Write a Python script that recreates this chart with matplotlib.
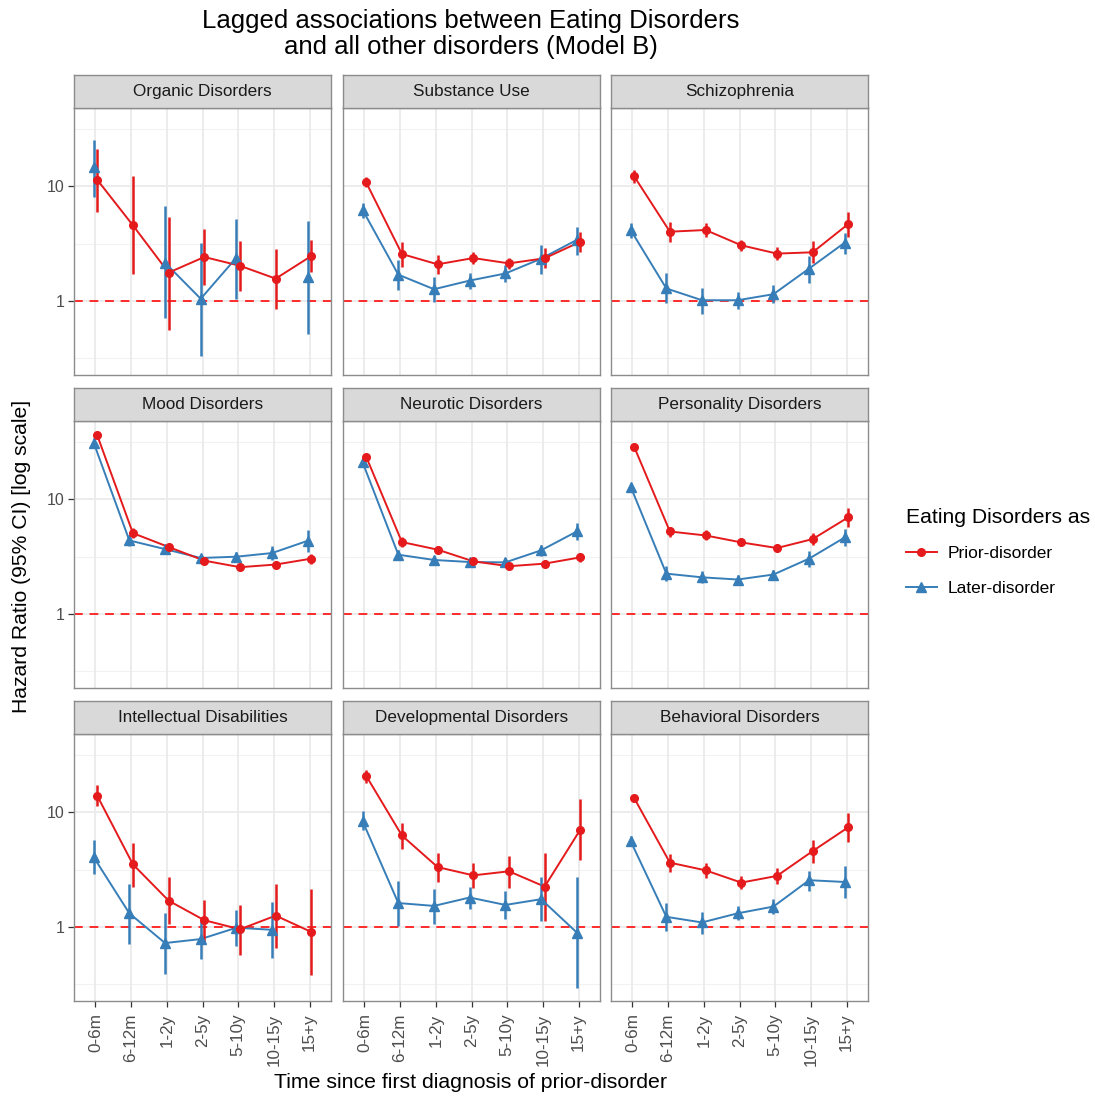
import numpy as np
import matplotlib
matplotlib.use('Agg')
import matplotlib.pyplot as plt
from matplotlib.lines import Line2D

plt.rcParams['font.family'] = ['Liberation Sans', 'DejaVu Sans']

nan = np.nan
periods = ['0-6m', '6-12m', '1-2y', '2-5y', '5-10y', '10-15y', '15+y']
panel_titles = ['Organic Disorders', 'Substance Use', 'Schizophrenia',
                'Mood Disorders', 'Neurotic Disorders', 'Personality Disorders',
                'Intellectual Disabilities', 'Developmental Disorders', 'Behavioral Disorders']
series_labels = ['Prior-disorder', 'Later-disorder']

# Organic Disorders
organic_prior_hr = [11.4, 4.56, 1.76, 2.41, 2.02, 1.56, 2.46]
organic_prior_lo = [6.0, 1.71, 0.56, 1.36, 1.22, 0.84, 1.78]
organic_prior_hi = [21.1, 12.2, 5.43, 4.2, 3.35, 2.85, 3.37]
organic_later_hr = [14.6, nan, 2.15, 1.04, 2.38, nan, 1.62]
organic_later_lo = [8.1, nan, 0.70, 0.33, 1.04, nan, 0.51]
organic_later_hi = [25.4, nan, 6.73, 3.19, 5.18, nan, 4.98]
# Substance Use
substance_prior_hr = [10.8, 2.56, 2.08, 2.36, 2.12, 2.35, 3.28]
substance_prior_lo = [9.8, 1.98, 1.70, 2.08, 1.88, 1.92, 2.68]
substance_prior_hi = [12.0, 3.28, 2.51, 2.68, 2.38, 2.87, 3.96]
substance_later_hr = [6.21, 1.69, 1.26, 1.50, 1.73, 2.33, 3.40]
substance_later_lo = [5.32, 1.24, 0.98, 1.26, 1.45, 1.71, 2.51]
substance_later_hi = [7.1, 2.27, 1.62, 1.76, 2.05, 3.07, 4.44]
# Schizophrenia
schizo_prior_hr = [12.2, 4.01, 4.15, 3.05, 2.58, 2.65, 4.69]
schizo_prior_lo = [10.6, 3.24, 3.58, 2.72, 2.27, 2.12, 3.63]
schizo_prior_hi = [13.9, 4.91, 4.75, 3.40, 2.93, 3.32, 6.0]
schizo_later_hr = [4.15, 1.28, 1.01, 1.01, 1.14, 1.91, 3.22]
schizo_later_lo = [3.51, 0.96, 0.77, 0.84, 0.95, 1.44, 2.56]
schizo_later_hi = [4.81, 1.73, 1.28, 1.20, 1.37, 2.46, 3.93]
# Mood Disorders
mood_prior_hr = [36.3, 5.06, 3.83, 2.91, 2.55, 2.69, 3.03]
mood_prior_lo = [34.0, 4.58, 3.51, 2.72, 2.40, 2.48, 2.72]
mood_prior_hi = [38.8, 5.6, 4.14, 3.11, 2.69, 2.91, 3.35]
mood_later_hr = [31.3, 4.37, 3.67, 3.07, 3.15, 3.39, 4.34]
mood_later_lo = [28.7, 3.88, 3.37, 2.87, 2.87, 2.93, 3.44]
mood_later_hi = [34.0, 4.9, 4.01, 3.28, 3.44, 3.88, 5.41]
# Neurotic Disorders
neurotic_prior_hr = [23.5, 4.23, 3.63, 2.87, 2.60, 2.74, 3.11]
neurotic_prior_lo = [22.0, 3.83, 3.39, 2.69, 2.46, 2.55, 2.83]
neurotic_prior_hi = [24.9, 4.64, 3.88, 3.07, 2.74, 2.93, 3.39]
neurotic_later_hr = [21.0, 3.28, 2.95, 2.83, 2.81, 3.58, 5.23]
neurotic_later_lo = [19.2, 2.97, 2.74, 2.60, 2.60, 3.17, 4.43]
neurotic_later_hi = [22.8, 3.63, 3.17, 3.07, 3.07, 4.01, 6.18]
# Personality Disorders
personality_prior_hr = [28.7, 5.23, 4.83, 4.20, 3.75, 4.49, 6.97]
personality_prior_lo = [27.5, 4.64, 4.37, 3.93, 3.46, 3.96, 5.78]
personality_prior_hi = [29.9, 5.78, 5.34, 4.48, 4.06, 5.06, 8.35]
personality_later_hr = [12.9, 2.24, 2.08, 1.99, 2.20, 3.03, 4.64]
personality_later_lo = [11.8, 1.92, 1.86, 1.83, 1.99, 2.55, 3.88]
personality_later_hi = [14.0, 2.60, 2.35, 2.17, 2.43, 3.51, 5.49]
# Intellectual Disabilities
intellectual_prior_hr = [13.96, 3.51, 1.69, 1.14, 0.95, 1.25, 0.90]
intellectual_prior_lo = [11.3, 2.24, 1.05, 0.73, 0.57, 0.65, 0.38]
intellectual_prior_hi = [17.4, 5.41, 2.74, 1.71, 1.55, 2.35, 2.15]
intellectual_later_hr = [4.06, 1.31, 0.72, 0.78, 0.98, 0.94, nan]
intellectual_later_lo = [2.91, 0.70, 0.39, 0.52, 0.68, 0.53, nan]
intellectual_later_hi = [5.67, 2.38, 1.31, 1.13, 1.40, 1.63, nan]
# Developmental Disorders
developmental_prior_hr = [20.8, 6.27, 3.32, 2.81, 3.05, 2.24, 7.07]
developmental_prior_lo = [18.2, 4.80, 2.46, 2.20, 2.20, 1.13, 3.80]
developmental_prior_hi = [23.5, 8.08, 4.37, 3.58, 4.14, 4.43, 13.1]
developmental_later_hr = [8.35, 1.61, 1.52, 1.80, 1.55, 1.74, 0.89]
developmental_later_lo = [7.07, 1.02, 1.05, 1.42, 1.17, 1.13, 0.29]
developmental_later_hi = [10.2, 2.51, 2.13, 2.24, 2.06, 2.74, 2.72]
# Behavioral Disorders
behavioral_prior_hr = [13.3, 3.63, 3.11, 2.43, 2.78, 4.58, 7.41]
behavioral_prior_lo = [12.4, 3.01, 2.65, 2.13, 2.35, 3.63, 5.48]
behavioral_prior_hi = [14.2, 4.28, 3.63, 2.78, 3.28, 5.71, 9.87]
behavioral_later_hr = [5.60, 1.22, 1.09, 1.31, 1.50, 2.55, 2.46]
behavioral_later_lo = [5.06, 0.92, 0.86, 1.15, 1.29, 2.06, 1.78]
behavioral_later_hi = [6.18, 1.61, 1.35, 1.52, 1.74, 3.07, 3.39]

panels = [
    (organic_prior_hr, organic_prior_lo, organic_prior_hi, organic_later_hr, organic_later_lo, organic_later_hi),
    (substance_prior_hr, substance_prior_lo, substance_prior_hi, substance_later_hr, substance_later_lo, substance_later_hi),
    (schizo_prior_hr, schizo_prior_lo, schizo_prior_hi, schizo_later_hr, schizo_later_lo, schizo_later_hi),
    (mood_prior_hr, mood_prior_lo, mood_prior_hi, mood_later_hr, mood_later_lo, mood_later_hi),
    (neurotic_prior_hr, neurotic_prior_lo, neurotic_prior_hi, neurotic_later_hr, neurotic_later_lo, neurotic_later_hi),
    (personality_prior_hr, personality_prior_lo, personality_prior_hi, personality_later_hr, personality_later_lo, personality_later_hi),
    (intellectual_prior_hr, intellectual_prior_lo, intellectual_prior_hi, intellectual_later_hr, intellectual_later_lo, intellectual_later_hi),
    (developmental_prior_hr, developmental_prior_lo, developmental_prior_hi, developmental_later_hr, developmental_later_lo, developmental_later_hi),
    (behavioral_prior_hr, behavioral_prior_lo, behavioral_prior_hi, behavioral_later_hr, behavioral_later_lo, behavioral_later_hi),
]

RED = '#E41A1C'
BLUE = '#377EB8'
W, H = 1095, 1097
fig = plt.figure(figsize=(W / 100, H / 100), dpi=100)

col_x = [74, 343, 611]
pw = 257
row_top = [108, 421, 734]
ph = 267
strip_h = 33
ylim = (10 ** -0.649, 10 ** 1.684)
x = np.arange(1, len(periods) + 1)
dodge = 0.05
border = '#8C8C8C'

def rect(x0, y0, w, h):
    return [x0 / W, 1 - (y0 + h) / H, w / W, h / H]

for k, data in enumerate(panels):
    r, c = divmod(k, 3)
    ax = fig.add_axes(rect(col_x[c], row_top[r], pw, ph))
    ax.set_yscale('log')
    ax.set_ylim(*ylim)
    ax.set_xlim(0.4, 7.6)
    for v in [10 ** -0.5, 10 ** 0.5, 10 ** 1.5]:
        ax.axhline(v, color='#F2F2F2', lw=0.8, zorder=0)
    for v in [1, 10]:
        ax.axhline(v, color='#EBEBEB', lw=1.3, zorder=0)
    for xi in x:
        ax.axvline(xi, color='#EBEBEB', lw=1.3, zorder=0)
    ax.axhline(1, color='#FF2A2A', lw=1.4, ls=(0, (4.5, 3.5)), zorder=1)
    p_hr, p_lo, p_hi, l_hr, l_lo, l_hi = [np.array(a, dtype=float) for a in data]
    ax.plot(x - dodge, l_hr, color=BLUE, lw=1.4, zorder=2)
    ax.plot(x + dodge, p_hr, color=RED, lw=1.4, zorder=2)
    ax.vlines(x - dodge, l_lo, l_hi, color=BLUE, lw=1.8, zorder=3)
    ax.vlines(x + dodge, p_lo, p_hi, color=RED, lw=1.8, zorder=3)
    ax.plot(x - dodge, l_hr, ls='none', marker='^', ms=6.5, color=BLUE, mec=BLUE, zorder=4)
    ax.plot(x + dodge, p_hr, ls='none', marker='o', ms=5.5, color=RED, mec=RED, zorder=4)
    ax.minorticks_off()
    ax.set_yticks([1, 10])
    ax.set_xticks(x)
    ax.tick_params(colors='#333333', labelcolor='#4D4D4D', length=4, width=0.9)
    if c == 0:
        ax.set_yticklabels(['1', '10'])
        ax.tick_params(axis='y', labelsize=11.5, pad=3)
    else:
        ax.tick_params(axis='y', left=False, labelleft=False)
    if r == 2:
        ax.set_xticklabels(periods, rotation=90)
        ax.tick_params(axis='x', labelsize=12.3, pad=5)
    else:
        ax.tick_params(axis='x', bottom=False, labelbottom=False)
    for s in ax.spines.values():
        s.set_color(border)
        s.set_linewidth(1.0)
    # strip
    sax = fig.add_axes(rect(col_x[c], row_top[r] - strip_h, pw, strip_h))
    sax.set_facecolor('#D9D9D9')
    sax.set_xticks([])
    sax.set_yticks([])
    for s in sax.spines.values():
        s.set_color(border)
        s.set_linewidth(1.0)
    sax.text(0.5, 0.5, panel_titles[k], ha='center', va='center', fontsize=12.3,
             color='#1A1A1A', transform=sax.transAxes)

fig.text(471 / W, 1 - 34 / H, 'Lagged associations between Eating Disorders\nand all other disorders (Model B)',
         ha='center', va='center', fontsize=18.5, color='#000000', linespacing=1.15)
fig.text(22 / W, 1 - 556 / H, 'Hazard Ratio (95% CI) [log scale]', rotation=90,
         ha='center', va='center', fontsize=15.2)
fig.text(471 / W, 1 - 1083 / H, 'Time since first diagnosis of prior-disorder',
         ha='center', va='center', fontsize=15.3)

handles = [Line2D([], [], color=RED, lw=1.4, marker='o', ms=5.5),
           Line2D([], [], color=BLUE, lw=1.4, marker='^', ms=6.5)]
leg = fig.legend(handles, series_labels, title='Eating Disorders as',
                 loc='center left', bbox_to_anchor=(890 / W, 1 - 552 / H),
                 frameon=False, fontsize=12.5, title_fontsize=15.2,
                 handlelength=1.8, labelspacing=1.1, handletextpad=0.6)
leg._legend_box.align = 'left'

fig.savefig('out.png', dpi=100)
